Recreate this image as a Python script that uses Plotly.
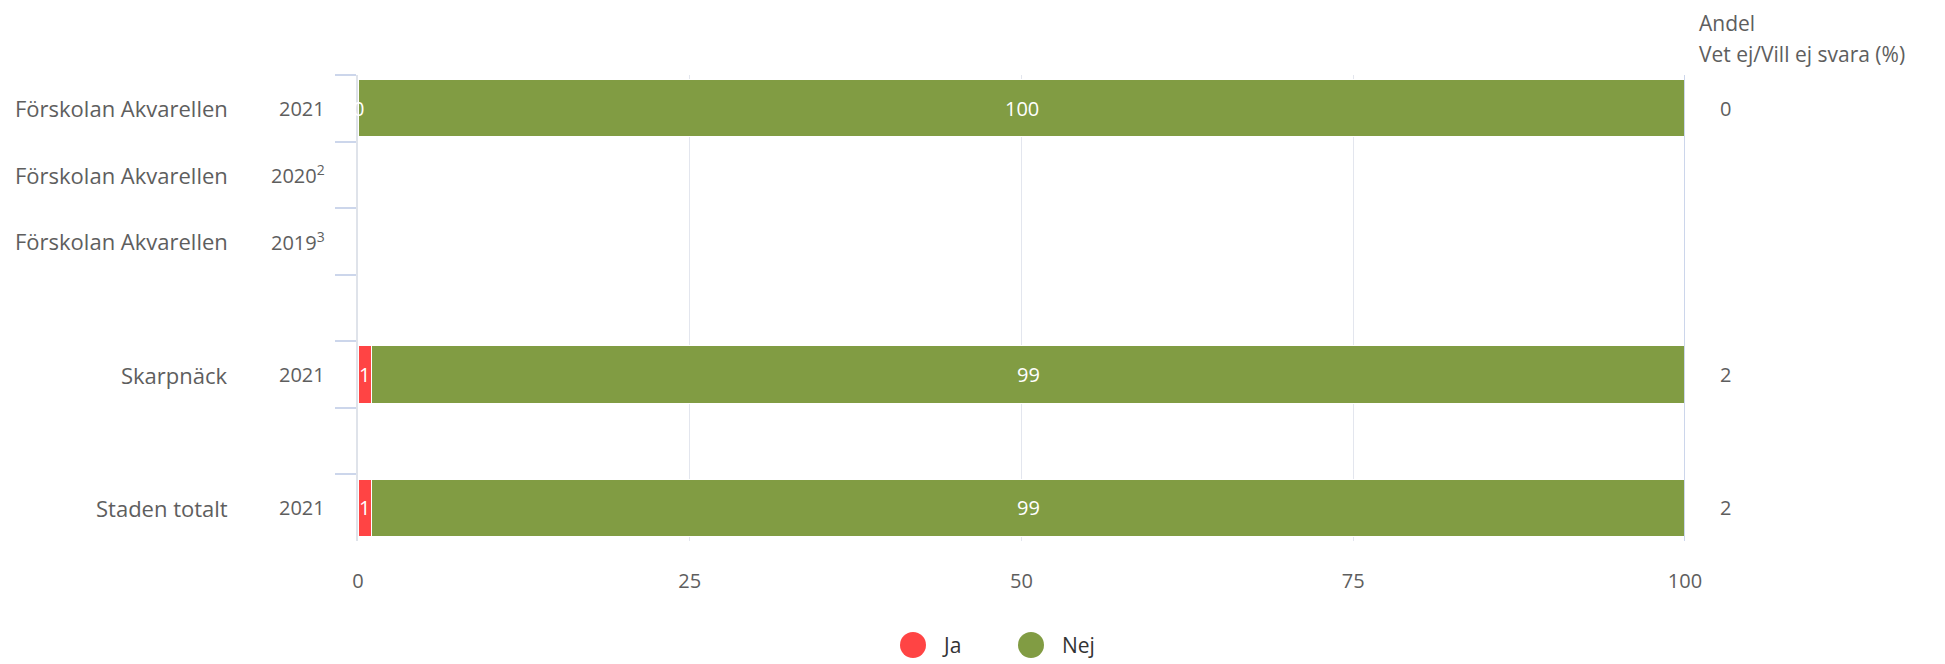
import plotly.graph_objects as go

# ---- data ----
row_ids = ["akv2021", "akv2020", "akv2019", "gap1", "skarp2021", "gap2", "staden2021"]
row_names = ["Förskolan Akvarellen", "Förskolan Akvarellen", "Förskolan Akvarellen", "", "Skarpnäck", "", "Staden totalt"]
row_years = ["2021", "2020<sup>2</sup>", "2019<sup>3</sup>", "", "2021", "", "2021"]
ja = [0, None, None, None, 1, None, 1]
nej = [100, None, None, None, 99, None, 99]
vet_ej = ["0", "", "", "", "2", "", "2"]
x_ticks = [0, 25, 50, 75, 100]
series_names = ["Ja", "Nej"]

RED = "#ff4444"
GREEN = "#819c43"
TXT = "#5e5e5e"
FONT = "Open Sans"
FS = 20

W, H = 1945, 664
PL, PR, PT, PB = 350, 1677, 67, 533   # plot area in figure pixels
L, R, T, B = PL, W - PR, PT, H - PB
PW, PH = PR - PL, PB - PT


def px(xp):
    return (xp - PL) / PW


def py(yp):
    return (PB - yp) / PH


fig = go.Figure()
for vals, col in ((ja, RED), (nej, GREEN)):
    fig.add_trace(go.Bar(y=row_ids, x=vals, orientation="h",
                         marker=dict(color=col, line=dict(color="white", width=1)),
                         showlegend=False, hoverinfo="skip", width=0.86))

ann = []
for rid, nm, yr, a, b, v in zip(row_ids, row_names, row_years, ja, nej, vet_ej):
    if nm:
        ann.append(dict(x=0, y=rid, xref="x", yref="y", text=nm, xanchor="right", xshift=-128,
                        showarrow=False, font=dict(size=22, color=TXT, family=FONT)))
    if yr:
        ann.append(dict(x=0, y=rid, xref="x", yref="y", text=yr, xanchor="right", xshift=-31,
                        showarrow=False, font=dict(size=FS, color=TXT, family=FONT)))
    if a is not None:
        ann.append(dict(x=a / 2, y=rid, xref="x", yref="y", text=str(a), showarrow=False,
                        font=dict(size=FS, color="white", family=FONT)))
    if b is not None:
        ann.append(dict(x=a + b / 2, y=rid, xref="x", yref="y", text=str(b), showarrow=False,
                        font=dict(size=FS, color="white", family=FONT)))
    if v:
        ann.append(dict(x=100, y=rid, xref="x", yref="y", text=v, xanchor="left", xshift=33,
                        showarrow=False, font=dict(size=FS, color=TXT, family=FONT)))

ann.append(dict(x=100, y=1, xref="x", yref="paper", text="Andel", xanchor="left", yanchor="middle",
                xshift=12, yshift=52, showarrow=False, font=dict(size=21, color=TXT, family=FONT)))
ann.append(dict(x=100, y=1, xref="x", yref="paper", text="Vet ej/Vill ej svara (%)", xanchor="left",
                yanchor="middle", xshift=12, yshift=21, showarrow=False,
                font=dict(size=21, color=TXT, family=FONT)))

# manual legend (circle symbols)
shapes = [dict(type="line", xref="x", yref="paper", x0=100, x1=100, y0=0, y1=1.0,
               line=dict(color="#ccd6eb", width=2), layer="above")]
leg_y = py(637)
for name, col, cx, tx in zip(series_names, (RED, GREEN), (905, 1023), (932, 1052)):
    shapes.append(dict(type="circle", xref="paper", yref="paper", xsizemode="pixel", ysizemode="pixel",
                       xanchor=px(cx), yanchor=leg_y, x0=-13, x1=13, y0=-13, y1=13,
                       fillcolor=col, line=dict(width=0)))
    ann.append(dict(x=px(tx), y=leg_y, xref="paper", yref="paper", text=name, xanchor="left",
                    yanchor="middle", showarrow=False, font=dict(size=21, color="#333333", family=FONT)))

fig.update_layout(
    width=W, height=H,
    margin=dict(l=L, r=R, t=T, b=B),
    barmode="stack",
    plot_bgcolor="white", paper_bgcolor="white",
    font=dict(family=FONT, color=TXT, size=FS),
    annotations=ann,
    shapes=shapes,
    showlegend=False,
    xaxis=dict(range=[0, 100], tickvals=x_ticks, showgrid=True, gridcolor="#e3e6ee", gridwidth=1,
               zeroline=False, showline=False, ticks="", ticklabelstandoff=26,
               tickfont=dict(size=FS, color=TXT, family=FONT), fixedrange=True),
    yaxis=dict(type="category", categoryorder="array", categoryarray=row_ids,
               range=[6.5, -0.5], showticklabels=False, showgrid=False, ticks="outside",
               tickson="boundaries", ticklen=21, tickcolor="#ccd6eb", tickwidth=2,
               showline=True, linecolor="#dfe3ea", linewidth=2, zeroline=False),
)

fig.write_html("out.html")
